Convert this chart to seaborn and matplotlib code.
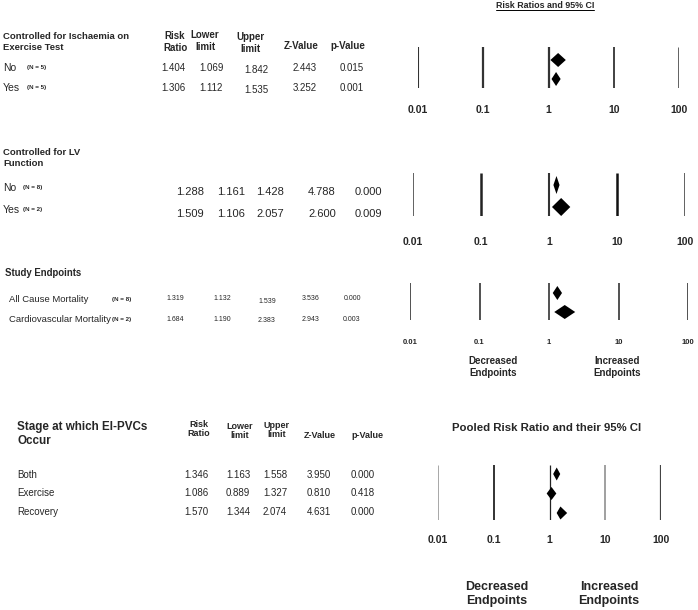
import matplotlib
matplotlib.use("Agg")
import matplotlib.pyplot as plt
import matplotlib.transforms as mtransforms
from matplotlib.lines import Line2D
from matplotlib.ticker import NullLocator
import seaborn as sns

# values
tick_values = [0.01, 0.1, 1, 10, 100]
tick_labels = ["0.01", "0.1", "1", "10", "100"]
col_headers = ["Risk\nRatio", "Lower\nlimit", "Upper\nlimit", "Z-Value", "p-Value"]

isch_title = "Controlled for Ischaemia on\nExercise Test"
isch_labels = ["No", "Yes"]
isch_n = ["(N = 5)", "(N = 5)"]
isch_rr = [1.404, 1.306]
isch_lower = [1.069, 1.112]
isch_upper = [1.842, 1.535]
isch_z = [2.443, 3.252]
isch_p = [0.015, 0.001]

lv_title = "Controlled for LV\nFunction"
lv_labels = ["No", "Yes"]
lv_n = ["(N = 8)", "(N = 2)"]
lv_rr = [1.288, 1.509]
lv_lower = [1.161, 1.106]
lv_upper = [1.428, 2.057]
lv_z = [4.788, 2.600]
lv_p = [0.000, 0.009]

end_title = "Study Endpoints"
end_labels = ["All Cause Mortality", "Cardiovascular Mortality"]
end_n = ["(N = 8)", "(N = 2)"]
end_rr = [1.319, 1.684]
end_lower = [1.132, 1.190]
end_upper = [1.539, 2.383]
end_z = [3.536, 2.943]
end_p = [0.000, 0.003]

stage_title = "Stage at which EI-PVCs\nOccur"
stage_labels = ["Both", "Exercise", "Recovery"]
stage_rr = [1.346, 1.086, 1.570]
stage_lower = [1.163, 0.889, 1.344]
stage_upper = [1.558, 1.327, 2.074]
stage_z = [3.950, 0.810, 4.631]
stage_p = [0.000, 0.418, 0.000]

W, H = 698, 610

sns.set_style("white")
plt.rcParams["font.family"] = ["Liberation Sans", "DejaVu Sans"]

fig = plt.figure(figsize=(W / 100, H / 100), dpi=100)


def put(x, y, s, **kw):
    kw.setdefault("va", "center")
    return fig.text(x / W, 1 - y / H, s, **kw)


def table(p, labels, n, cols):
    put(p["head"][0], p["head"][1], p["title"], fontsize=p["head_fs"], fontweight="bold")
    if p.get("hdr_x"):
        for hx, hy, h in zip(p["hdr_x"], p["hdr_y"], col_headers):
            put(hx, hy, h, ha="center", fontsize=p["hdr_fs"], fontweight="bold",
                linespacing=p.get("hdr_ls", 1.2))
    for i, ry in enumerate(p["rows"]):
        put(p["lab_x"], ry, labels[i], fontsize=p["lab_fs"])
        if n:
            put(p["n_x"], ry, n[i], fontsize=4.5, fontweight="bold")
        for j, (cx, vals) in enumerate(zip(p["num_x"], cols)):
            put(cx, ry + p["num_dy"][j], f"{vals[i]:.3f}", ha="center", fontsize=p["num_fs"])


def forest(p, rr, lo, hi):
    rows = p["rows_f"]
    d = (rows[-1] - rows[0]) / (len(rows) - 1)
    top = (p["ytop"] - rows[0]) / d
    bot = (p["ybot"] - rows[0]) / d
    ax = fig.add_axes([p["x0"] / W, 1 - p["ybot"] / H,
                       (p["x1"] - p["x0"]) / W, (p["ybot"] - p["ytop"]) / H])
    ax.set_xscale("log")
    ax.set_xlim(tick_values[0], tick_values[-1])
    ax.set_ylim(bot, top)
    ax.vlines(tick_values, bot, top, colors=p["vcol"], linewidths=p["vlw"])
    h = p["hpx"] / d
    for i in range(len(rr)):
        ax.fill([lo[i], rr[i], hi[i], rr[i]], [i, i - h, i, i + h],
                color="black", lw=0, clip_on=False, zorder=3)
    ax.set_xticks([])
    ax.set_yticks([])
    ax.xaxis.set_minor_locator(NullLocator())
    sns.despine(ax=ax, left=True, bottom=True)
    ax.patch.set_alpha(0)
    tr = mtransforms.blended_transform_factory(ax.transData, fig.transFigure)
    for tv, tl in zip(tick_values, tick_labels):
        ax.text(tv, 1 - p["lab_y"] / H, tl, transform=tr, ha="center", va="center",
                fontsize=p["tick_fs"], fontweight="bold")
    return ax


p1 = dict(title=isch_title, head=(3, 42), head_fs=6.8,
          hdr_x=[175, 205, 250, 301, 348], hdr_y=[42, 41, 43, 46, 46], hdr_fs=7,
          rows=[68, 88], lab_x=3, lab_fs=7.5, n_x=27,
          num_x=[173, 211, 256, 305, 352], num_dy=[0, 0, 2, 0, 0], num_fs=7,
          x0=418, x1=679, ytop=47, ybot=88, rows_f=[60, 79], hpx=7,
          vcol=["#333333"] * 5, vlw=[1.5, 1.6, 1.6, 1.3, 1.8], lab_y=110, tick_fs=7.5)

p2 = dict(title=lv_title, head=(3, 158), head_fs=6.8,
          rows=[188, 210], lab_x=3, lab_fs=7.5, n_x=23,
          num_x=[190, 231, 270, 322, 368], num_dy=[4] * 5, num_fs=8,
          x0=413, x1=685, ytop=173, ybot=216, rows_f=[185, 207], hpx=9,
          vcol=["#555555", "#222222", "#333333", "#111111", "#555555"],
          vlw=[1.3, 1.8, 1.5, 1.8, 1.3], lab_y=242, tick_fs=7.5)

p3 = dict(title=end_title, head=(5, 273), head_fs=6.9,
          rows=[299, 319], lab_x=9, lab_fs=6.8, n_x=112,
          num_x=[175, 222, 267, 311, 352], num_dy=[0, 0, 2, 0, 0], num_fs=5,
          x0=410, x1=688, ytop=283, ybot=320, rows_f=[293, 312], hpx=7,
          vcol=["#333333"] * 5, vlw=[1.2] * 5, lab_y=342, tick_fs=5.5)

p4 = dict(title=stage_title, head=(17, 434), head_fs=8.35,
          hdr_x=[199, 240, 277, 320, 367], hdr_y=[429, 431, 430, 436, 436], hdr_fs=6.5,
          hdr_ls=1.1,
          rows=[475, 493, 512], lab_x=17, lab_fs=7,
          num_x=[196, 238, 275, 319, 363], num_dy=[0] * 5, num_fs=7,
          x0=438, x1=661, ytop=465, ybot=520, rows_f=[474, 493, 513], hpx=6.5,
          vcol=["#999999", "#222222", "#222222", "#999999", "#444444"],
          vlw=[0.6, 1.3, 0.9, 1.3, 1.6], lab_y=540, tick_fs=7.5)

table(p1, isch_labels, isch_n, [isch_rr, isch_lower, isch_upper, isch_z, isch_p])
forest(p1, isch_rr, isch_lower, isch_upper)

table(p2, lv_labels, lv_n, [lv_rr, lv_lower, lv_upper, lv_z, lv_p])
forest(p2, lv_rr, lv_lower, lv_upper)

table(p3, end_labels, end_n, [end_rr, end_lower, end_upper, end_z, end_p])
forest(p3, end_rr, end_lower, end_upper)
put(493, 367, "Decreased\nEndpoints", ha="center", fontsize=7, fontweight="bold")
put(617, 367, "Increased\nEndpoints", ha="center", fontsize=7, fontweight="bold")

table(p4, stage_labels, None, [stage_rr, stage_lower, stage_upper, stage_z, stage_p])
forest(p4, stage_rr, stage_lower, stage_upper)
put(547, 428, "Pooled Risk Ratio and their 95% CI", ha="center", fontsize=8.2, fontweight="bold")
put(497, 594, "Decreased\nEndpoints", ha="center", fontsize=9, fontweight="bold", linespacing=1.2)
put(609, 594, "Increased\nEndpoints", ha="center", fontsize=9, fontweight="bold", linespacing=1.2)

# underlined title of the top panel
t = put(545, 6, "Risk Ratios and 95% CI", ha="center", fontsize=6.4, fontweight="bold")
fig.canvas.draw()
bb = t.get_window_extent(fig.canvas.get_renderer())
inv = fig.transFigure.inverted()
(ux0, uy), (ux1, _) = inv.transform([(bb.x0, bb.y0 + 0.5), (bb.x1, bb.y0 + 0.5)])
fig.add_artist(Line2D([ux0, ux1], [uy, uy], transform=fig.transFigure, color="black", lw=0.7))

fig.savefig("out.png", dpi=100)
